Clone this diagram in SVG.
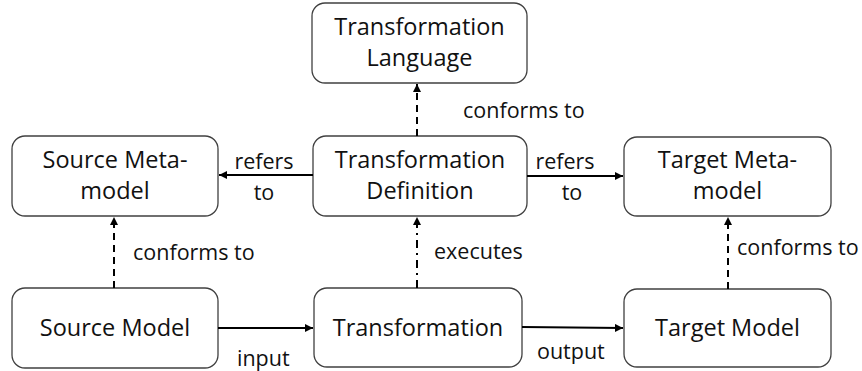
<svg xmlns="http://www.w3.org/2000/svg" width="862" height="371" viewBox="0 0 862 371">
  <defs>
    <marker id="arrow" viewBox="0 0 10 10" refX="10" refY="5" markerWidth="4" markerHeight="4" orient="auto" markerUnits="strokeWidth">
      <path d="M0,0 L10,5 L0,10 z" fill="#000"/>
    </marker>
    <style>
      .box { fill: #fff; stroke: #404040; stroke-width: 1.3; }
      .name { font-family: "Open Sans", "Liberation Sans", sans-serif; font-size: 23.5px; fill: #111; text-anchor: middle; }
      .lbl { font-family: "Open Sans", "Liberation Sans", sans-serif; font-size: 21.5px; fill: #111; }
      .edge { fill: none; stroke: #000; stroke-width: 2; marker-end: url(#arrow); }
      .dash { stroke-dasharray: 7 5; }
      .dashdot { stroke-dasharray: 8 5 2 5; }
    </style>
  </defs>
  <rect width="862" height="371" fill="#fff"/>

  <g id="transformation-language">
    <rect class="box" x="312" y="3" width="215" height="80" rx="13"/>
    <text class="name" x="419.5" y="35">Transformation</text>
    <text class="name" x="419.5" y="66">Language</text>
  </g>
  <g id="source-metamodel">
    <rect class="box" x="12" y="136" width="206" height="80" rx="13"/>
    <text class="name" x="115" y="168">Source Meta-</text>
    <text class="name" x="115" y="199">model</text>
  </g>
  <g id="transformation-definition">
    <rect class="box" x="313" y="136" width="214" height="80" rx="13"/>
    <text class="name" x="420" y="168">Transformation</text>
    <text class="name" x="420" y="199">Definition</text>
  </g>
  <g id="target-metamodel">
    <rect class="box" x="624" y="137" width="207" height="79" rx="13"/>
    <text class="name" x="727.5" y="168">Target Meta-</text>
    <text class="name" x="727.5" y="199">model</text>
  </g>
  <g id="source-model">
    <rect class="box" x="12" y="288" width="206" height="80" rx="13"/>
    <text class="name" x="115" y="336">Source Model</text>
  </g>
  <g id="transformation">
    <rect class="box" x="314" y="288" width="208" height="79" rx="13"/>
    <text class="name" x="418" y="336">Transformation</text>
  </g>
  <g id="target-model">
    <rect class="box" x="624" y="289" width="207" height="78" rx="13"/>
    <text class="name" x="727.5" y="336">Target Model</text>
  </g>

  <g id="connectors">
    <line class="edge dash" x1="417" y1="136" x2="417" y2="84"/>
    <line class="edge" x1="313" y1="175" x2="219" y2="175"/>
    <line class="edge" x1="527" y1="176" x2="623" y2="176"/>
    <line class="edge dash" x1="114" y1="288" x2="114" y2="217"/>
    <line class="edge dashdot" x1="417" y1="288" x2="417" y2="217"/>
    <line class="edge dash" x1="728" y1="289" x2="728" y2="217"/>
    <line class="edge" x1="218" y1="328" x2="313" y2="328"/>
    <line class="edge" x1="522" y1="327" x2="623" y2="328"/>

    <text class="lbl" x="463" y="118">conforms to</text>
    <text class="lbl" x="264" y="169" text-anchor="middle">refers</text>
    <text class="lbl" x="264" y="200" text-anchor="middle">to</text>
    <text class="lbl" x="565" y="169" text-anchor="middle">refers</text>
    <text class="lbl" x="572" y="200" text-anchor="middle">to</text>
    <text class="lbl" x="133" y="260">conforms to</text>
    <text class="lbl" x="434" y="259">executes</text>
    <text class="lbl" x="737" y="255">conforms to</text>
    <text class="lbl" x="237" y="366">input</text>
    <text class="lbl" x="537" y="359">output</text>
  </g>
</svg>
